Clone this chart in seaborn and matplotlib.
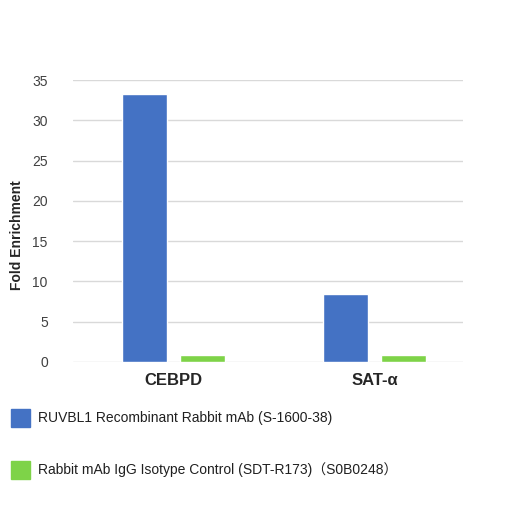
import matplotlib
matplotlib.use('Agg')
import matplotlib.pyplot as plt
import seaborn as sns
import pandas as pd
from matplotlib.patches import Rectangle

targets = ["CEBPD", "SAT-α"]
series = ["RUVBL1 Recombinant Rabbit mAb (S-1600-38)",
          "Rabbit mAb IgG Isotype Control (SDT-R173)（S0B0248）"]
ruvbl1 = [33.3, 8.5]
igg = [0.9, 0.9]
colors = ["#4472c4", "#7ed348"]

df = pd.DataFrame({
    "target": targets * 2,
    "antibody": [series[0]] * 2 + [series[1]] * 2,
    "value": ruvbl1 + igg,
})

sns.set_style("white")
plt.rcParams['font.family'] = ['Liberation Sans', 'Noto Sans CJK SC', 'DejaVu Sans']

fig = plt.figure(figsize=(5.06, 5.07), dpi=100)
ax = fig.add_axes([0.144, 0.286, 0.771, 0.556])
sns.barplot(data=df, x="target", y="value", hue="antibody", palette=colors,
            width=0.577, gap=0.224, ax=ax, legend=False, saturation=1)

ax.set_ylim(0, 35)
ax.set_xlim(-0.5, 1.44)
ax.set_yticks(range(0, 36, 5))
ax.yaxis.grid(True, color="#d9d9d9", lw=1)
ax.set_axisbelow(True)
for s in ax.spines.values():
    s.set_visible(False)
ax.tick_params(axis="y", labelsize=10, colors="#404040", length=0, pad=18)
ax.tick_params(axis="x", length=0, pad=8)
for lbl in ax.get_xticklabels():
    lbl.set_fontsize(12)
    lbl.set_fontweight("bold")
ax.set_xlabel("")
ax.set_ylabel("Fold Enrichment", fontsize=10, fontweight="bold")
ax.yaxis.set_label_coords(-0.125, 0.45)

# legend drawn below the axes
for i, (lab, c) in enumerate(zip(series, colors)):
    yc = 1 - (418 + 52 * i) / 507
    fig.patches.append(Rectangle((11 / 506, yc - 9 / 507), 19 / 506, 18 / 507,
                                 transform=fig.transFigure, color=c))
    fig.text(38 / 506, yc, lab, fontsize=10, va="center", color="#202020")

fig.savefig("out.png", dpi=100)
